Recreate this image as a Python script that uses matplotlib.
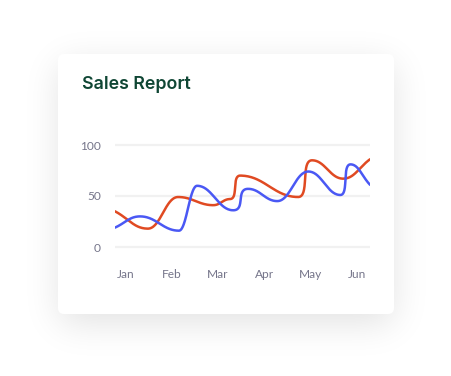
import numpy as np
import matplotlib.pyplot as plt
from matplotlib.patches import FancyBboxPatch

# months on the x axis (x in months from the left edge)
months = ["Jan", "Feb", "Mar", "Apr", "May", "Jun"]

red_x = [0.0, 0.71, 1.36, 2.12, 2.48, 2.70, 3.95, 4.25, 4.92, 5.5]
red_y = [35, 18, 49, 41, 47, 70, 49, 85, 67, 86]

blue_x = [0.0, 0.54, 1.38, 1.77, 2.55, 2.87, 3.50, 4.17, 4.86, 5.08, 5.5]
blue_y = [19, 30, 16, 60, 36, 57, 45, 74, 51, 81, 61]


def smooth(xs, ys, k=0.42, n=60):
    # bezier pieces, flat at the turning points, secant slope at both ends
    xs = np.asarray(xs, float)
    ys = np.asarray(ys, float)
    m = np.zeros(len(xs))
    m[0] = (ys[1] - ys[0]) / (xs[1] - xs[0])
    m[-1] = (ys[-1] - ys[-2]) / (xs[-1] - xs[-2])
    t = np.linspace(0, 1, n)
    a, b, c, d = (1 - t) ** 3, 3 * (1 - t) ** 2 * t, 3 * (1 - t) * t ** 2, t ** 3
    px, py = [], []
    for i in range(len(xs) - 1):
        dx = xs[i + 1] - xs[i]
        # short jumps get longer handles so they stand up almost vertical
        kk = k if dx > 0.35 else 0.85
        x1, y1 = xs[i] + kk * dx, ys[i] + kk * dx * m[i]
        x2, y2 = xs[i + 1] - kk * dx, ys[i + 1] - kk * dx * m[i + 1]
        px.append(a * xs[i] + b * x1 + c * x2 + d * xs[i + 1])
        py.append(a * ys[i] + b * y1 + c * y2 + d * ys[i + 1])
    return np.concatenate(px), np.concatenate(py)


W, H = 452, 376
fig = plt.figure(figsize=(W / 100, H / 100), dpi=100)
fig.patch.set_facecolor("white")

# background layer in pixel units: shadow + card
bg = fig.add_axes([0, 0, 1, 1])
bg.set_xlim(0, W)
bg.set_ylim(H, 0)
bg.axis("off")

yy, xx = np.mgrid[0:H, 0:W]
mask = ((xx >= 60) & (xx <= 392) & (yy >= 64) & (yy <= 322)).astype(float)
kern = np.exp(-0.5 * (np.arange(-60, 61) / 18.0) ** 2)
kern /= kern.sum()
blur = np.apply_along_axis(lambda r: np.convolve(r, kern, mode="same"), 1, mask)
blur = np.apply_along_axis(lambda c: np.convolve(c, kern, mode="same"), 0, blur)
shadow = np.zeros((H, W, 4))
shadow[..., 3] = blur * 0.12
bg.imshow(shadow, extent=(0, W, H, 0), zorder=0, interpolation="bilinear")

card = FancyBboxPatch((58, 54), 336, 260, boxstyle="round,pad=0,rounding_size=6",
                      fc="white", ec="none", zorder=1)
bg.add_patch(card)
bg.text(82, 89, "Sales Report", fontsize=12.8, fontweight="semibold",
        color="#0f4634", family=["Inter", "DejaVu Sans"], va="baseline", zorder=2)

# chart
ax = fig.add_axes([115 / W, (H - 252.1) / H, 255 / W, 112.2 / H])
ax.patch.set_alpha(0)
ax.set_xlim(0, 5.5)
ax.set_ylim(-5, 105)
for s in ax.spines.values():
    s.set_visible(False)

ax.set_yticks([0, 50, 100])
ax.set_xticks(np.arange(len(months)) + 0.22)
ax.set_xticklabels(months)
ax.grid(axis="y", color="#f1f1f1", linewidth=1.6)
ax.set_axisbelow(True)
ax.tick_params(length=0, labelsize=8.6, labelcolor="#75758a")
ax.tick_params(axis="x", pad=12)
ax.tick_params(axis="y", pad=10)
for lab in ax.get_xticklabels() + ax.get_yticklabels():
    lab.set_family(["Lato", "DejaVu Sans"])

rx, ry = smooth(red_x, red_y)
bx, by = smooth(blue_x, blue_y)
ax.plot(rx, ry, color="#e04a22", linewidth=1.8, solid_capstyle="round", zorder=3)
ax.plot(bx, by, color="#4a58f4", linewidth=1.8, solid_capstyle="round", zorder=4)

fig.savefig("out.png", dpi=100)
